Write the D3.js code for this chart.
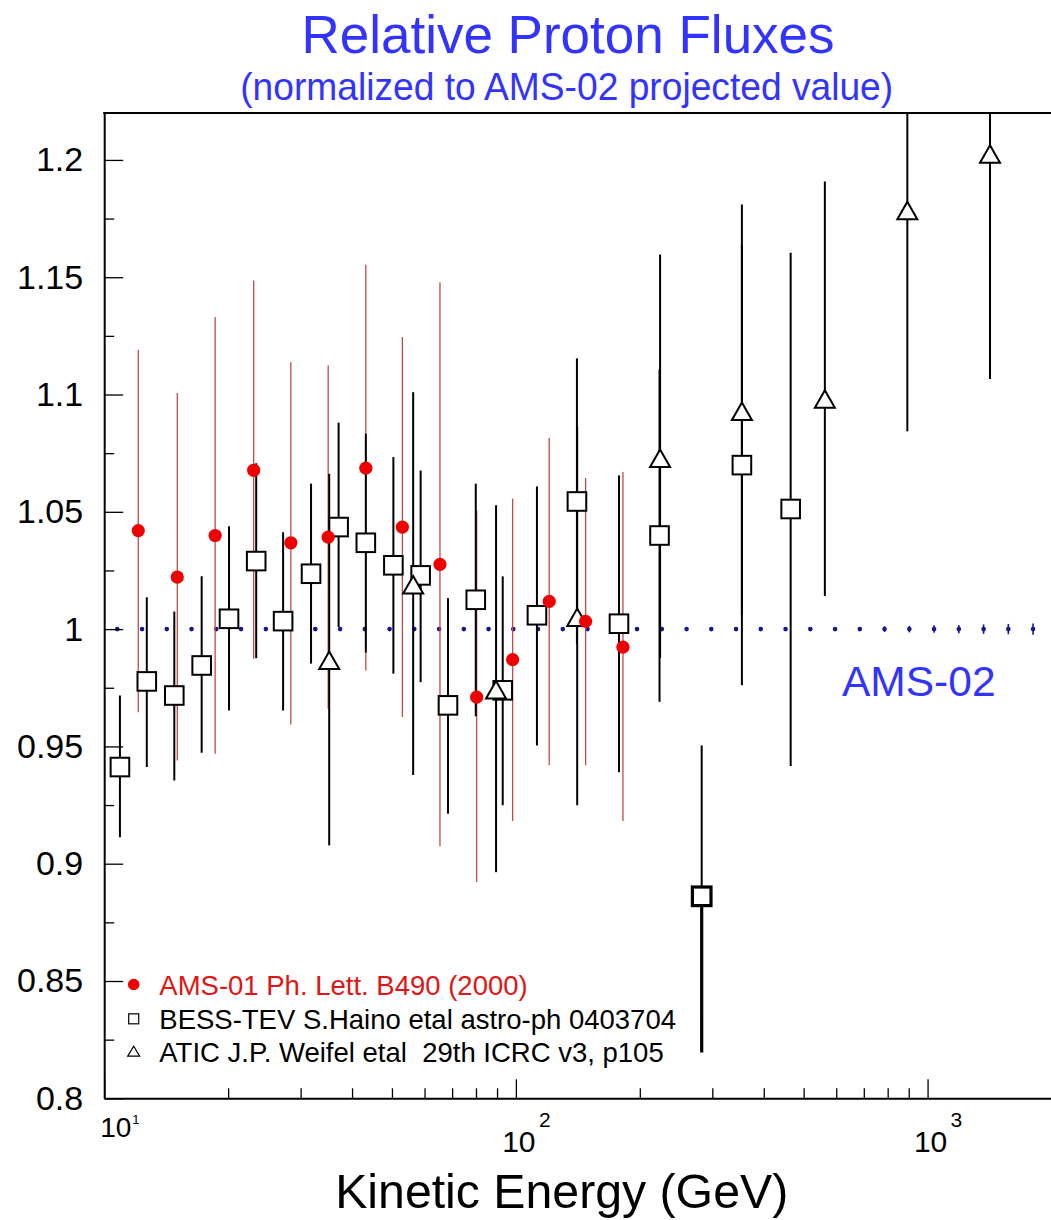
<!DOCTYPE html>
<html><head><meta charset="utf-8">
<script src="https://cdn.jsdelivr.net/npm/d3@7"></script>
<style>
body{margin:0;background:#fff}
svg{display:block}
text{font-family:"Liberation Sans",Arial,Helvetica,sans-serif}
</style>
</head><body>
<svg id="c" width="1051" height="1220"></svg>
<script>
// ---------------- DATA ----------------
// AMS-01 (red dots)
const ams01E  = [12.1, 15.05, 18.6, 23.07, 28.4, 35.0, 43.2, 53.0, 65.4, 80.3, 98.2, 120.5, 147.7, 182];
const ams01V  = [1.042, 1.0222, 1.0399, 1.0677, 1.0368, 1.0392, 1.0686, 1.0435, 1.0276, 0.971, 0.987, 1.0118, 1.0033, 0.9923];
const ams01Hi = [1.1191, 1.1006, 1.133, 1.1486, 1.1138, 1.1124, 1.1553, 1.1245, 1.1479, 1.0506, 1.0556, 1.0816, 1.0644, 1.067];
const ams01Lo = [0.9646, 0.944, 0.9469, 0.9874, 0.9593, 0.966, 0.9824, 0.9625, 0.9074, 0.8922, 0.9182, 0.942, 0.942, 0.9182];

// BESS-TEV (open squares)
const bessE  = [10.92, 12.69, 14.8, 17.25, 20.1, 23.4, 27.2, 31.8, 37.1, 43.2, 50.4, 58.7, 68.4, 79.9, 92.9, 112.5, 140.7, 178, 223.3, 282.7, 354, 465];
const bessV  = [0.9412, 0.9777, 0.9717, 0.9845, 1.0044, 1.029, 1.0034, 1.0236, 1.0435, 1.0368, 1.0272, 1.0229, 0.9675, 1.0125, 0.9739, 1.0059, 1.0544, 1.0023, 1.0399, 0.8861, 1.0699, 1.0512];
const bessHi = [0.9717, 1.0136, 1.0075, 1.0225, 1.0438, 1.0707, 1.0413, 1.062, 1.088, 1.0833, 1.0733, 1.0676, 1.0132, 1.062, 1.0225, 1.0608, 1.1154, 1.0655, 1.1107, 0.9504, 1.1637, 1.1604];
const bessLo = [0.9113, 0.9412, 0.9355, 0.9473, 0.9653, 0.9876, 0.9653, 0.9853, 1.0009, 0.99, 0.981, 0.9774, 0.9213, 0.9628, 0.9249, 0.9504, 0.9938, 0.939, 0.969, 0.8195, 0.9761, 0.9416];

// ATIC (open triangles)
const aticE  = [35.2, 56.3, 89.5, 140.9, 224, 354, 563, 893, 1418];
const aticV  = [0.9867, 1.0189, 0.9742, 1.0051, 1.0728, 1.0929, 1.0981, 1.1784, 1.2025];
const aticHi = [1.0662, 1.101, 1.0528, 1.0861, 1.1597, 1.181, 1.1908, 1.2725, 1.298];
const aticLo = [0.9078, 0.9378, 0.8964, 0.9249, 0.9877, 1.006, 1.0141, 1.0843, 1.1066];

// AMS-02 projected (blue dotted line at 1)
const ams02E   = [10.76, 12.36, 14.19, 16.30, 18.72, 21.50, 24.70, 28.36, 32.57, 37.41, 42.95, 49.34, 56.66, 65.08, 74.73, 85.83, 98.56, 113.2, 130.0, 149.3, 171.5, 196.9, 226.2, 259.8, 298.3, 342.6, 393.4, 451.9, 519.0, 596.1, 684.6, 786.2, 903.0, 1037, 1191, 1368, 1571, 1804];
const ams02V   = [1,1,1,1,1,1,1,1,1,1,1,1,1,1,1,1,1,1,1,1,1,1,1,1,1,1,1,1,1,1,1,1,1,1,1,1,1,1];
const ams02Err = [0,0,0,0,0,0,0,0,0,0,0,0,0,0,0,0,0,0,0,0,0,0,0,0,0,0,0,0,0,0,0,0.0012,0.0014,0.0016,0.0018,0.002,0.0022,0.0024];

// Axes
const yMajor  = [0.8, 0.85, 0.9, 0.95, 1.0, 1.05, 1.1, 1.15, 1.2];
const yLabels = ["0.8", "0.85", "0.9", "0.95", "1", "1.05", "1.1", "1.15", "1.2"];
const yMinor  = [0.825, 0.875, 0.925, 0.975, 1.025, 1.075, 1.125, 1.175, 1.225];
const xMajor  = [10, 100, 1000];
const xExp    = ["1", "2", "3"];
const xMinor  = [20, 30, 40, 50, 60, 70, 80, 90, 200, 300, 400, 500, 600, 700, 800, 900, 2000];

const legendItems = [
  {label: "AMS-01 Ph. Lett. B490 (2000)", kind: "dot"},
  {label: "BESS-TEV S.Haino etal astro-ph 0403704", kind: "square"},
  {label: "ATIC J.P. Weifel etal  29th ICRC v3, p105", kind: "triangle"}
];

// ---------------- DRAW ----------------
const L = 104.2, R = 1051.5, T = 113, B = 1098.3;
const x = d3.scaleLog().domain([10, 2000]).range([L, R]);
const y = d3.scaleLinear().domain([0.8, 1.22]).range([B, T]);
const svg = d3.select("#c");
const BLUE = "#3333ff", NAVY = "#161690", RED = "#ee0000", REDBAR = "#c84848";

svg.append("defs").append("clipPath").attr("id", "clip")
  .append("rect").attr("x", L).attr("y", T).attr("width", R - L).attr("height", B - T);

const plot = svg.append("g").attr("clip-path", "url(#clip)");

const zip = (E, V, Hi, Lo) => E.map((e, i) => ({e, v: V[i], hi: Hi[i], lo: Lo[i], i}));
const ams01 = zip(ams01E, ams01V, ams01Hi, ams01Lo);
const bess  = zip(bessE, bessV, bessHi, bessLo);
const atic  = zip(aticE, aticV, aticHi, aticLo);
const ams02 = ams02E.map((e, i) => ({e, v: ams02V[i], err: ams02Err[i]}));
const boldIdx = 19;

// AMS-02 dots
plot.selectAll("line.a2").data(ams02.filter(d => d.err > 0)).join("line")
  .attr("x1", d => x(d.e)).attr("x2", d => x(d.e))
  .attr("y1", d => y(d.v + d.err)).attr("y2", d => y(d.v - d.err))
  .attr("stroke", NAVY).attr("stroke-width", 1.6);
plot.selectAll("circle.a2").data(ams02).join("circle")
  .attr("cx", d => x(d.e)).attr("cy", d => y(d.v)).attr("r", 2.3).attr("fill", NAVY);

// red error bars
plot.selectAll("line.r").data(ams01).join("line")
  .attr("x1", d => x(d.e)).attr("x2", d => x(d.e))
  .attr("y1", d => y(d.hi)).attr("y2", d => y(d.lo))
  .attr("stroke", REDBAR).attr("stroke-width", 1.3);

// black error bars
const blackBars = bess.map(d => ({...d, s: "b"})).concat(atic.map(d => ({...d, s: "a"})));
plot.selectAll("line.bu").data(blackBars).join("line")
  .attr("x1", d => x(d.e)).attr("x2", d => x(d.e))
  .attr("y1", d => y(d.hi)).attr("y2", d => y(d.v))
  .attr("stroke", "#000").attr("stroke-width", 2);
plot.selectAll("line.bl").data(blackBars).join("line")
  .attr("x1", d => x(d.e)).attr("x2", d => x(d.e))
  .attr("y1", d => y(d.v)).attr("y2", d => y(d.lo))
  .attr("stroke", "#000").attr("stroke-width", d => (d.s === "b" && d.i === boldIdx) ? 3.2 : 2);

// squares
const SQ = 18.6;
plot.selectAll("rect.sq").data(bess).join("rect")
  .attr("x", d => x(d.e) - SQ / 2).attr("y", d => y(d.v) - SQ / 2)
  .attr("width", SQ).attr("height", SQ)
  .attr("fill", "#fff").attr("stroke", "#000")
  .attr("stroke-width", d => d.i === boldIdx ? 3.2 : 2);

// triangles
const tri = (cx, cy, w, h) => `M${cx},${cy - h / 2}L${cx + w / 2},${cy + h / 2}L${cx - w / 2},${cy + h / 2}Z`;
plot.selectAll("path.tr").data(atic).join("path")
  .attr("d", d => tri(x(d.e), y(d.v), 20, 17.5))
  .attr("fill", "#fff").attr("stroke", "#000").attr("stroke-width", 2);

// red dots
plot.selectAll("circle.r").data(ams01).join("circle")
  .attr("cx", d => x(d.e)).attr("cy", d => y(d.v)).attr("r", 6.6).attr("fill", RED);

// ---- axes ----
const yAx = svg.append("g").attr("transform", `translate(${L},0)`)
  .call(d3.axisLeft(y).tickValues(yMajor).tickSize(-19).tickSizeOuter(0).tickPadding(21)
    .tickFormat((d, i) => yLabels[i]));
yAx.select(".domain").attr("stroke-width", 2);
yAx.selectAll(".tick line").attr("stroke-width", 1.3);
yAx.selectAll("text").attr("font-size", 34).attr("fill", "#000")
  .style("font-family", '"Liberation Sans",Arial,sans-serif');
const yMin = svg.append("g").attr("transform", `translate(${L},0)`)
  .call(d3.axisLeft(y).tickValues(yMinor.filter(v => v <= 1.22)).tickSize(-10).tickSizeOuter(0).tickFormat(""));
yMin.select(".domain").remove();
yMin.selectAll(".tick line").attr("stroke-width", 1.3);

const xAx = svg.append("g").attr("transform", `translate(0,${B})`)
  .call(d3.axisBottom(x).tickValues(xMajor).tickSize(-19).tickSizeOuter(0).tickFormat(""));
xAx.select(".domain").attr("stroke-width", 2);
xAx.selectAll(".tick line").attr("stroke-width", 1.3);
const xMin = svg.append("g").attr("transform", `translate(0,${B})`)
  .call(d3.axisBottom(x).tickValues(xMinor).tickSize(-10).tickSizeOuter(0).tickFormat(""));
xMin.select(".domain").remove();
xMin.selectAll(".tick line").attr("stroke-width", 1.3);

// top frame line
svg.append("line").attr("x1", L - 1).attr("x2", R).attr("y1", T).attr("y2", T)
  .attr("stroke", "#000").attr("stroke-width", 2);

// x tick labels 10^n
xMajor.forEach((v, i) => {
  const g = svg.append("g");
  if (i === 0) {
    g.append("text").attr("x", x(v) - 4).attr("y", 1137).attr("font-size", 28).text("10");
    g.append("text").attr("x", x(v) + 28).attr("y", 1124).attr("font-size", 13).text(xExp[i]);
  } else {
    g.append("text").attr("x", x(v) + 3).attr("y", 1151.7).attr("font-size", 30)
      .attr("text-anchor", "middle").text("10");
    g.append("text").attr("x", x(v) + 23).attr("y", 1126.7).attr("font-size", 21).text(xExp[i]);
  }
});

// axis title
svg.append("text").attr("x", 561.7).attr("y", 1208).attr("font-size", 48)
  .attr("text-anchor", "middle").attr("textLength", 453).attr("lengthAdjust", "spacingAndGlyphs")
  .attr("fill", "#000").text("Kinetic Energy (GeV)");

// titles
svg.append("text").attr("x", 568).attr("y", 52.7).attr("font-size", 53)
  .attr("text-anchor", "middle").attr("fill", BLUE).text("Relative Proton Fluxes");
svg.append("text").attr("x", 566.7).attr("y", 99.5).attr("font-size", 38.5)
  .attr("text-anchor", "middle").attr("textLength", 653).attr("lengthAdjust", "spacingAndGlyphs")
  .attr("fill", BLUE).text("(normalized to AMS-02 projected value)");

// AMS-02 label
svg.append("text").attr("x", 842).attr("y", 695.7).attr("font-size", 42.5)
  .attr("fill", BLUE).text("AMS-02");

// legend
const lg = svg.append("g");
const lgBase = [995, 1029.3, 1061.7];
legendItems.forEach((it, i) => {
  const cy = lgBase[i] - 10.5;
  if (it.kind === "dot") {
    lg.append("circle").attr("cx", 133.7).attr("cy", cy).attr("r", 5.8).attr("fill", RED);
  } else if (it.kind === "square") {
    lg.append("rect").attr("x", 133.7 - 5).attr("y", cy - 5).attr("width", 10).attr("height", 10)
      .attr("fill", "#fff").attr("stroke", "#000").attr("stroke-width", 1.2);
  } else {
    lg.append("path").attr("d", tri(133.7, cy, 12, 10)).attr("fill", "#fff")
      .attr("stroke", "#000").attr("stroke-width", 1.2);
  }
  lg.append("text").attr("x", 159.3).attr("y", lgBase[i]).attr("font-size", 27.5)
    .style("white-space", "pre")
    .attr("fill", i === 0 ? "#e01515" : "#000").text(it.label);
});
</script>
</body></html>
